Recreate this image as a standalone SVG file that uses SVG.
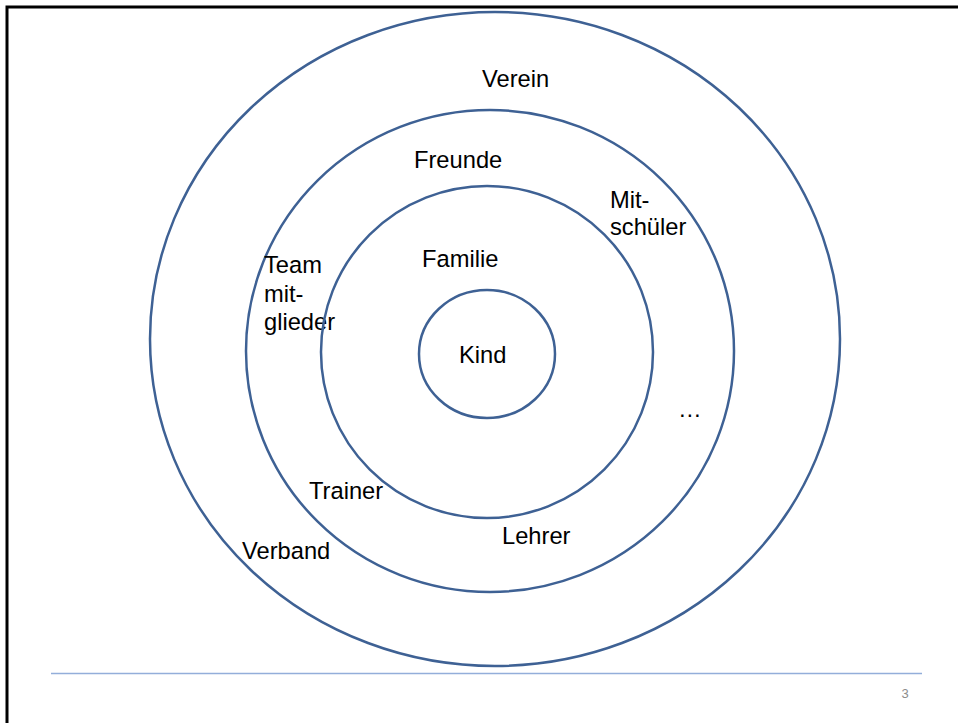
<svg xmlns="http://www.w3.org/2000/svg" width="958" height="723" viewBox="0 0 958 723">
<style>
.ring{fill:none;stroke:#3E6194;stroke-width:2.5}
.lbl{font-family:"Liberation Sans",Arial,sans-serif;font-size:23.7px;fill:#000}
</style>
<rect width="958" height="723" fill="#fff"/>
<g id="frame">
<path d="M7 723 V7 H958" fill="none" stroke="#000" stroke-width="3"/>
<line x1="51" y1="673.5" x2="922" y2="673.5" stroke="#93AEDA" stroke-width="1.5"/>
<text x="905" y="698" font-family="'Liberation Sans',Arial,sans-serif" font-size="13" fill="#8C8C8C" text-anchor="middle">3</text>
</g>
<g id="verein">
<ellipse class="ring" cx="495" cy="339" rx="345" ry="327"/>
<text class="lbl" x="482" y="87">Verein</text>
<text class="lbl" x="242" y="559">Verband</text>
</g>
<g id="freunde">
<ellipse class="ring" cx="490" cy="351" rx="244" ry="241"/>
<text class="lbl" x="414" y="168">Freunde</text>
<text class="lbl" x="610" y="208">Mit-</text>
<text class="lbl" x="610" y="235">schüler</text>
<text class="lbl" x="264" y="273">Team</text>
<text class="lbl" x="264" y="302">mit-</text>
<text class="lbl" x="264" y="330">glieder</text>
<text class="lbl" x="678" y="417">…</text>
<text class="lbl" x="309" y="499">Trainer</text>
<text class="lbl" x="502" y="544">Lehrer</text>
</g>
<g id="familie">
<ellipse class="ring" cx="487" cy="352" rx="166" ry="166"/>
<text class="lbl" x="422" y="267">Familie</text>
</g>
<g id="kind">
<ellipse class="ring" cx="487" cy="354" rx="68" ry="64"/>
<text class="lbl" x="459" y="363">Kind</text>
</g>
</svg>
